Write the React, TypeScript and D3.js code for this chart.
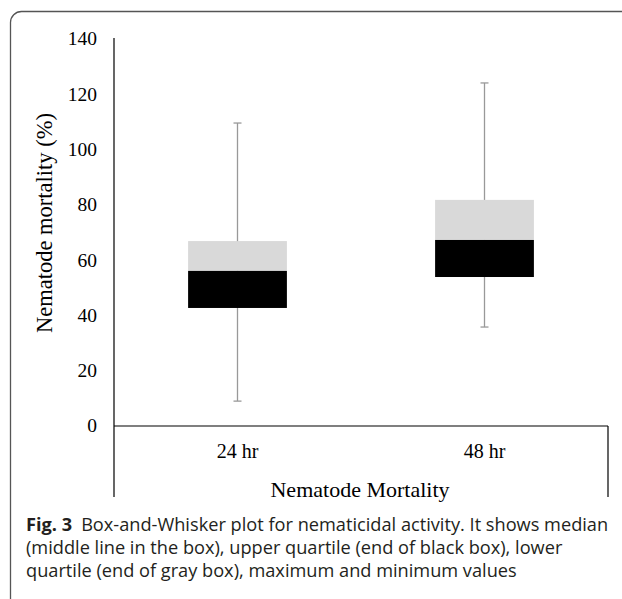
import React, { useEffect, useRef } from 'react';
import * as d3 from 'd3';

const categories = ['24 hr', '48 hr'];
const minValues = [9.0, 35.8];
const lowerValues = [42.7, 53.9];
const medianValues = [56.1, 67.3];
const upperValues = [66.9, 81.8];
const maxValues = [109.6, 124.1];
const yTicks = [0, 20, 40, 60, 80, 100, 120, 140];
const captionLines = [
  ['Fig. 3', 'Box-and-Whisker plot for nematicidal activity. It shows median'],
  ['', '(middle line in the box), upper quartile (end of black box), lower'],
  ['', 'quartile (end of gray box), maximum and minimum values'],
];

const serif = '"Liberation Serif", "Times New Roman", serif';
const sans = '"Open Sans", "Noto Sans", sans-serif';

const App: React.FC = () => {
  const ref = useRef<SVGSVGElement | null>(null);

  useEffect(() => {
    const svg = d3.select(ref.current);
    svg.selectAll('*').remove();

    const left = 114;
    const right = 608;
    const top = 38;
    const bottom = 426;
    const frameBottom = 497;

    // outer rounded frame
    svg.append('rect')
      .attr('x', 10.5).attr('y', 11.5)
      .attr('width', 650).attr('height', 600)
      .attr('rx', 11)
      .attr('fill', 'none')
      .attr('stroke', '#555')
      .attr('stroke-width', 1.3);

    const y = d3.scaleLinear().domain([0, 140]).range([bottom, top + 1]);
    const x = d3.scaleBand<string>().domain(categories).range([left, right]);
    const boxW = x.bandwidth() * 0.4;

    const data = categories.map((c, i) => ({
      cat: c,
      min: minValues[i],
      q1: lowerValues[i],
      med: medianValues[i],
      q3: upperValues[i],
      max: maxValues[i],
    }));

    // whiskers + boxes
    const g = svg.append('g');
    data.forEach(d => {
      const cx = (x(d.cat) as number) + x.bandwidth() / 2;
      g.append('line')
        .attr('x1', cx).attr('x2', cx)
        .attr('y1', y(d.max)).attr('y2', y(d.min))
        .attr('stroke', '#999').attr('stroke-width', 1.3);
      [d.max, d.min].forEach(v => {
        g.append('line')
          .attr('x1', cx - 4).attr('x2', cx + 4)
          .attr('y1', y(v)).attr('y2', y(v))
          .attr('stroke', '#999').attr('stroke-width', 1.3);
      });
      g.append('rect')
        .attr('x', cx - boxW / 2).attr('width', boxW)
        .attr('y', y(d.q3)).attr('height', y(d.med) - y(d.q3))
        .attr('fill', '#d9d9d9');
      g.append('rect')
        .attr('x', cx - boxW / 2).attr('width', boxW)
        .attr('y', y(d.med)).attr('height', y(d.q1) - y(d.med))
        .attr('fill', '#000');
    });

    // axes
    svg.append('line')
      .attr('x1', left).attr('x2', left)
      .attr('y1', top).attr('y2', frameBottom)
      .attr('stroke', '#000').attr('stroke-width', 1.2);
    svg.append('line')
      .attr('x1', left).attr('x2', right)
      .attr('y1', bottom).attr('y2', bottom)
      .attr('stroke', '#000').attr('stroke-width', 1.2);
    svg.append('line')
      .attr('x1', right).attr('x2', right)
      .attr('y1', bottom).attr('y2', frameBottom)
      .attr('stroke', '#000').attr('stroke-width', 1.2);

    svg.append('g')
      .selectAll('text')
      .data(yTicks)
      .join('text')
      .attr('x', 97)
      .attr('y', d => y(d))
      .attr('dy', '0.33em')
      .attr('text-anchor', 'end')
      .style('font-family', serif)
      .style('font-size', '19.5px')
      .text(d => d);

    svg.append('g')
      .selectAll('text')
      .data(categories)
      .join('text')
      .attr('x', d => (x(d) as number) + x.bandwidth() / 2)
      .attr('y', 458)
      .attr('text-anchor', 'middle')
      .style('font-family', serif)
      .style('font-size', '20px')
      .text(d => d);

    svg.append('text')
      .attr('transform', 'translate(52,223) rotate(-90)')
      .attr('text-anchor', 'middle')
      .style('font-family', serif)
      .style('font-size', '22.5px')
      .text('Nematode mortality (%)');

    svg.append('text')
      .attr('x', 360).attr('y', 497)
      .attr('text-anchor', 'middle')
      .style('font-family', serif)
      .style('font-size', '22px')
      .text('Nematode Mortality');

    // caption
    const cap = svg.append('g');
    captionLines.forEach(([bold, rest], i) => {
      const t = cap.append('text')
        .attr('x', 26).attr('y', 531 + i * 23)
        .style('font-family', sans)
        .style('font-size', '18.2px')
        .style('fill', '#231f20');
      if (bold) {
        t.append('tspan').style('font-weight', 'bold').text(bold);
        t.append('tspan').attr('dx', 9).text(rest);
      } else {
        t.append('tspan').text(rest);
      }
    });
  }, []);

  return (
    <svg
      ref={ref}
      width={622}
      height={599}
      style={{ position: 'absolute', left: 0, top: 0, background: '#fff' }}
    />
  );
};

export default App;
